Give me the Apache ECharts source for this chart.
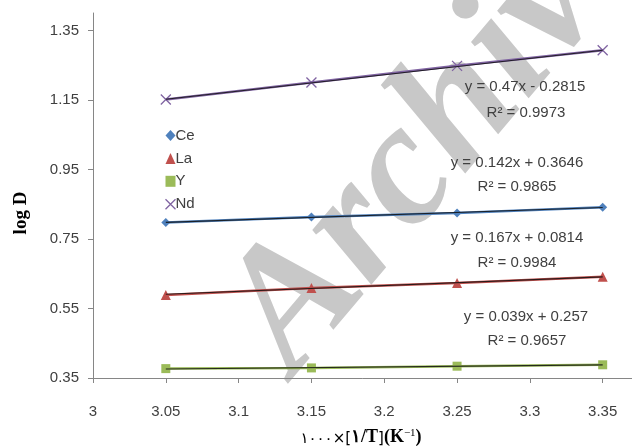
<!DOCTYPE html>
<html>
<head>
<meta charset="utf-8">
<script src="https://cdn.jsdelivr.net/npm/echarts@6/dist/echarts.min.js"></script>
<style>
html,body{margin:0;padding:0;background:#fff;}
#c{width:632px;height:448px;}
</style>
</head>
<body>
<div id="c"></div>
<script>
// ---- data ----
var xVals = [3.05, 3.15, 3.25, 3.35];
var ceVals = [0.797, 0.813, 0.825, 0.841];
var laVals = [0.589, 0.609, 0.623, 0.641];
var yVals  = [0.377, 0.379, 0.384, 0.388];
var ndVals = [1.151, 1.200, 1.248, 1.293];
// trendline end values (from the printed fit equations)
var trendX = [3.05, 3.35];
var ceTrend = [0.7977, 0.8403];
var laTrend = [0.5908, 0.6409];
var yTrend  = [0.3760, 0.3877];
var ndTrend = [1.1520, 1.2930];
var yTicks = [0.35, 0.55, 0.75, 0.95, 1.15, 1.35];
var seriesNames = ['Ce', 'La', 'Y', 'Nd'];
var eqTexts = ['y = 0.47x - 0.2815', 'y = 0.142x + 0.3646', 'y = 0.167x + 0.0814', 'y = 0.039x + 0.257'];
var r2Texts = ['R\u00b2 = 0.9973', 'R\u00b2 = 0.9865', 'R\u00b2 = 0.9984', 'R\u00b2 = 0.9657'];

function pairs(xs, ys){ return xs.map(function(x,i){ return [x, ys[i]]; }); }

var colors = {Ce:'#4F81BD', La:'#C0504D', Y:'#9BBB59', Nd:'#8064A2'};
var crossPath = 'path://M0,0L10,10M10,0L0,10';
var FONT = '"Liberation Sans", Arial, sans-serif';
var TXT = '#404040';

function dataSeries(name, vals, symbol, size, itemStyle){
  return {
    name: name, type: 'line', data: pairs(xVals, vals),
    symbol: symbol, symbolSize: size,
    lineStyle: {color: colors[name], width: 2.5},
    itemStyle: itemStyle,
    z: 3
  };
}
function trendSeries(vals){
  return {
    type: 'line', data: pairs(trendX, vals), symbol: 'none',
    lineStyle: {color: '#111', width: 1.1, opacity: 0.85},
    z: 4, silent: true
  };
}

var eqPos = [[525,87],[517,163],[517,238],[526,317]];
var r2Pos = [[526,113],[517,187],[517,263],[527,341]];
var graphics = [];
// watermark (behind the plot marks)
graphics.push({type:'text', x:326, y:404, rotation:0.87, z:0, silent:true,
  style:{text:'Archive', fill:'#c8c8c8', font:'italic bold 175px "Liberation Serif", serif', align:'left', verticalAlign:'bottom'}});
eqTexts.forEach(function(t,i){
  graphics.push({type:'text', x:eqPos[i][0], y:eqPos[i][1], z:10,
    style:{text:t, fill:TXT, font:'15px '+FONT, align:'center', verticalAlign:'middle'}});
  graphics.push({type:'text', x:r2Pos[i][0], y:r2Pos[i][1], z:10,
    style:{text:r2Texts[i], fill:TXT, font:'15px '+FONT, align:'center', verticalAlign:'middle'}});
});
// y axis title
graphics.push({type:'text', x:21, y:213, rotation:Math.PI/2, z:10,
  style:{text:'log D', fill:'#000', font:'bold 19px "Liberation Serif", serif', align:'center', verticalAlign:'middle'}});
// x axis title
graphics.push({type:'text', x:361, y:437, z:10,
  style:{text:'{a|\u0661\u0660\u0660\u0660\u00d7[}{b|\u0661/T}{a|]}{b|(K}{s|\u2212\u0031}{b|)}',
    align:'center', verticalAlign:'middle',
    rich:{
      a:{font:'15px "DejaVu Sans", serif', fill:'#000', verticalAlign:'bottom'},
      b:{font:'bold 18px "Liberation Serif", serif', fill:'#000', verticalAlign:'bottom'},
      s:{font:'11px "Liberation Serif", serif', fill:'#000', verticalAlign:'top', padding:[0,0,8,0]}
    }}});

var chart = echarts.init(document.getElementById('c'), null, {renderer:'canvas'});
chart.setOption({
  animation: false,
  backgroundColor: '#fff',
  grid: {left: 93, width: 582.5, top: 13, bottom: 70, outerBoundsMode: 'none', containLabel: false},
  xAxis: {
    type: 'value', min: 3, max: 3.4, interval: 0.05,
    axisLine: {show: true, lineStyle: {color: '#868686', width: 1}},
    axisTick: {show: true, length: 5, lineStyle: {color: '#868686'}},
    axisLabel: {color: TXT, fontSize: 15, fontFamily: FONT, margin: 26},
    splitLine: {show: false}
  },
  yAxis: {
    type: 'value', min: 0.35, max: 1.4,
    axisLine: {show: true, lineStyle: {color: '#868686', width: 1}},
    axisTick: {show: true, length: 5, lineStyle: {color: '#868686'}, customValues: yTicks},
    axisLabel: {color: TXT, fontSize: 15, fontFamily: FONT, margin: 14, customValues: yTicks,
      formatter: function(v){ return v.toFixed(2); }},
    splitLine: {show: false}
  },
  legend: {
    orient: 'vertical', left: 163, top: 128, padding: 0,
    itemWidth: 10, itemHeight: 11, itemGap: 7.9,
    textStyle: {color: TXT, fontSize: 15, fontFamily: FONT, lineHeight: 12, padding:[0,0,0,-5]},
    data: [
      {name:'Ce', icon:'diamond'},
      {name:'La', icon:'triangle'},
      {name:'Y', icon:'rect'},
      {name:'Nd', icon:crossPath, itemStyle:{color:'none', borderColor:colors.Nd, borderWidth:1.3}}
    ]
  },
  series: [
    dataSeries('Ce', ceVals, 'diamond', 9, {color: colors.Ce}),
    dataSeries('La', laVals, 'triangle', 10, {color: colors.La}),
    dataSeries('Y', yVals, 'rect', 9, {color: colors.Y}),
    dataSeries('Nd', ndVals, crossPath, 10, {color: 'none', borderColor: colors.Nd, borderWidth: 1.3}),
    trendSeries(ceTrend), trendSeries(laTrend), trendSeries(yTrend), trendSeries(ndTrend)
  ],
  graphic: graphics
});
</script>
</body>
</html>
